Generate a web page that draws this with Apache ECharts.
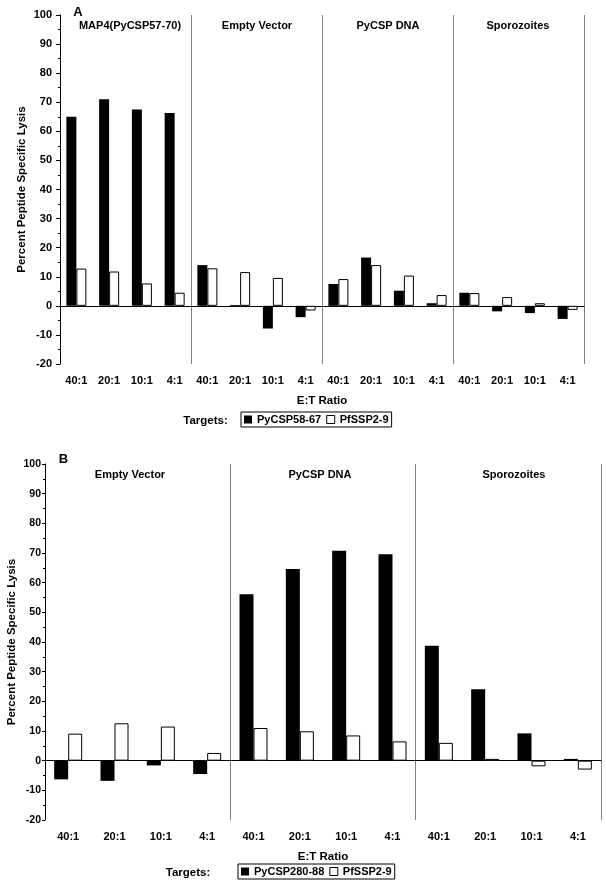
<!DOCTYPE html>
<html><head><meta charset="utf-8">
<script src="https://cdn.jsdelivr.net/npm/echarts@6/dist/echarts.min.js"></script>
<style>html,body{margin:0;padding:0;background:#fff}#c{width:606px;height:887px}</style>
</head><body><div id="c"></div>
<script>
// ---------- data ----------
const ratios = ['40:1', '20:1', '10:1', '4:1'];

const groupsA = ['MAP4(PyCSP57-70)', 'Empty Vector', 'PyCSP DNA', 'Sporozoites'];
const seriesNamesA = ['PyCSP58-67', 'PfSSP2-9'];
const blackA = [65.0, 71.0, 67.5, 66.3,  14.0, 0.3, -7.8, -3.9,  7.5, 16.6, 5.2, 0.9,  4.5, -1.9, -2.5, -4.5];
const whiteA = [12.8, 11.8, 7.7, 4.5,    12.9, 11.6, 9.6, -1.6,  9.2, 14.0, 10.4, 3.7, 4.4, 3.0, 0.9, -1.4];

const groupsB = ['Empty Vector', 'PyCSP DNA', 'Sporozoites'];
const seriesNamesB = ['PyCSP280-88', 'PfSSP2-9'];
const blackB = [-6.3, -6.8, -1.6, -4.5,  56.1, 64.6, 70.8, 69.6,  38.7, 24.1, 9.2, 0.6];
const whiteB = [9.1, 12.6, 11.5, 2.6,    11.0, 9.9, 8.5, 6.5,     6.0, 0.6, -1.9, -3.0];

const yMin = -20, yMax = 100, yStep = 10;
const yTitle = 'Percent Peptide Specific Lysis';
const xTitle = 'E:T Ratio';
const legendLabel = 'Targets:';
const panelLetters = ['A', 'B'];

// ---------- layout / style ----------
const FONT = '"Liberation Sans", Arial, Helvetica, sans-serif';
function cats(groups) {
  const out = [];
  groups.forEach((g, gi) => ratios.forEach(r => out.push(gi + '|' + r)));
  return out;
}
const catsA = cats(groupsA), catsB = cats(groupsB);
const fmt = v => String(v).split('|')[1];

function labelAxis(grid, data, nameGap, margin) {
  return {
    type: 'category', gridIndex: grid, data: data, position: 'bottom', boundaryGap: true,
    axisLine: { show: false, onZero: false }, axisTick: { show: false },
    axisLabel: { formatter: fmt, interval: 0, margin: margin, color: '#000', fontWeight: 'bold', fontSize: 11, fontFamily: FONT },
    splitLine: { show: true, interval: (i) => i % 4 === 0, lineStyle: { color: '#808080', width: 1 } },
    name: xTitle, nameLocation: 'middle', nameGap: nameGap, nameMoveOverlap: false,
    nameTextStyle: { color: '#000', fontWeight: 'bold', fontSize: 11.5, fontFamily: FONT }
  };
}
function zeroAxis(grid, data) {
  return {
    type: 'category', gridIndex: grid, data: data, position: 'top',
    axisLine: { show: true, onZero: true, lineStyle: { color: '#000', width: 1 } },
    axisTick: { show: false }, axisLabel: { show: false }, splitLine: { show: false }
  };
}
function yAx(grid, tickLen, margin, fs, nameGap) {
  return {
    type: 'value', gridIndex: grid, min: yMin, max: yMax, interval: yStep,
    axisLine: { show: true, lineStyle: { color: '#000', width: 1 } },
    axisTick: { show: true, inside: false, length: tickLen, lineStyle: { color: '#000' } },
    minorTick: { show: true, splitNumber: 2, length: 2, lineStyle: { color: '#000' } },
    splitLine: { show: false },
    axisLabel: { margin: margin, color: '#000', fontWeight: 'bold', fontSize: fs, fontFamily: FONT },
    name: yTitle, nameLocation: 'middle', nameGap: nameGap, nameRotate: 90, nameMoveOverlap: false,
    nameTextStyle: { color: '#000', fontWeight: 'bold', fontSize: 11.5, fontFamily: FONT }
  };
}
function barPair(names, black, white, xi, yi, w) {
  return [
    { type: 'bar', name: names[0], xAxisIndex: xi, yAxisIndex: yi, data: black, barWidth: w, barGap: '0%',
      itemStyle: { color: '#000', borderColor: '#000', borderWidth: 0 } },
    { type: 'bar', name: names[1], xAxisIndex: xi, yAxisIndex: yi, data: white, barWidth: w, barGap: '0%',
      itemStyle: { color: '#fff', borderColor: '#000', borderWidth: 1 } }
  ];
}
function txt(x, y, text, size) {
  return { type: 'text', x: x, y: y, silent: true,
    style: { text: text, font: 'bold ' + size + 'px ' + FONT, fill: '#000', textAlign: 'center', textVerticalAlign: 'middle' } };
}
function legend(names, left, top) {
  return { data: [
      { name: names[0], itemStyle: { color: '#000', borderWidth: 0 } },
      { name: names[1], itemStyle: { color: '#fff', borderColor: '#000', borderWidth: 1 } }
    ],
    left: left, top: top, orient: 'horizontal', icon: 'rect',
    itemWidth: 8, itemHeight: 8, itemGap: 5, padding: [2, 3], borderColor: '#000', borderWidth: 1,
    selectedMode: false,
    textStyle: { color: '#000', fontWeight: 'bold', fontSize: 11, fontFamily: FONT } };
}

const titleXA = [130, 257, 388, 518];
const titleXB = [130, 320, 514];
const graphics = [
  txt(78, 12, panelLetters[0], 13),
  txt(63.5, 459, panelLetters[1], 13),
  txt(205.5, 421, legendLabel, 11.5),
  txt(188, 873, legendLabel, 11.5)
];
groupsA.forEach((g, i) => graphics.push(txt(titleXA[i], 26, g, 11)));
groupsB.forEach((g, i) => graphics.push(txt(titleXB[i], 475, g, 11)));

const option = {
  animation: false,
  backgroundColor: '#fff',
  grid: [
    { left: 60, top: 15, width: 524, height: 349, containLabel: false, outerBoundsMode: 'none' },
    { left: 45, top: 464, width: 556, height: 356, containLabel: false, outerBoundsMode: 'none' }
  ],
  xAxis: [
    labelAxis(0, catsA, 31, 11), zeroAxis(0, catsA),
    labelAxis(1, catsB, 31, 11), zeroAxis(1, catsB)
  ],
  yAxis: [
    yAx(0, 4, 8, 11, 32),
    yAx(1, 3, 4, 10.5, 27)
  ],
  legend: [legend(seriesNamesA, 241, 412), legend(seriesNamesB, 238, 864)],
  graphic: graphics,
  series: [].concat(
    barPair(seriesNamesA, blackA, whiteA, 0, 0, 10),
    barPair(seriesNamesB, blackB, whiteB, 2, 1, 14)
  )
};
const chart = echarts.init(document.getElementById('c'), null, { renderer: 'canvas' });
chart.setOption(option);
</script>
</body></html>
